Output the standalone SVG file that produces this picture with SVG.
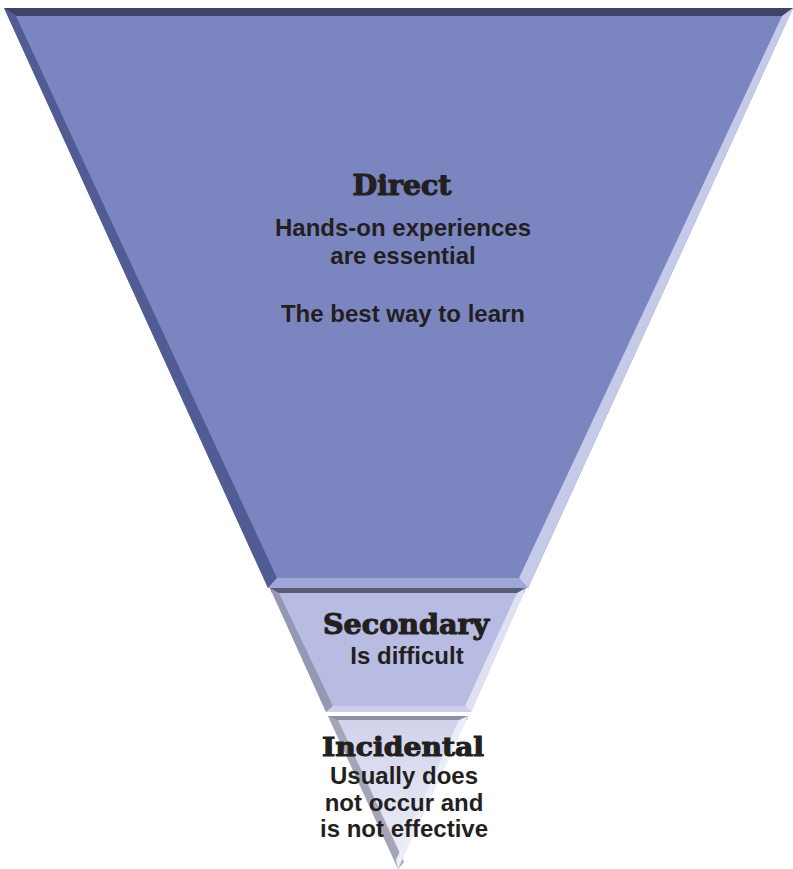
<svg xmlns="http://www.w3.org/2000/svg" width="793" height="869" viewBox="0 0 793 869">
<defs>
<linearGradient id="incFill" x1="0" y1="0" x2="0" y2="1">
<stop offset="0" stop-color="#cfd2ea"/>
<stop offset="1" stop-color="#eef0f8"/>
</linearGradient>
</defs>
<style>
.head{font-family:"DejaVu Serif","Liberation Serif",serif;font-weight:bold;fill:#231f20;text-anchor:middle;stroke:#231f20;stroke-width:1.1}
.body{font-family:"Liberation Sans",Arial,sans-serif;font-weight:bold;fill:#231f20;text-anchor:middle;font-size:24px}
</style>
<rect width="793" height="869" fill="#ffffff"/>
<g id="direct">
<polygon points="4,8 793,8 528,588 268,588" fill="#7b86c1"/>
<polygon points="4,8 793,8 782,16 16,16" fill="#3d4468"/>
<polygon points="4,8 16,16 277,578 268,588" fill="#525c94"/>
<polygon points="793,8 528,588 519,578 782,16" fill="#c6cae9"/>
<polygon points="277,578 519,578 528,588 268,588" fill="#a0a7d8"/>
<text class="head" x="402" y="195" font-size="27" textLength="99" lengthAdjust="spacingAndGlyphs">Direct</text>
<text class="body" x="403" y="236">Hands-on experiences</text>
<text class="body" x="403" y="264">are essential</text>
<text class="body" x="403" y="322">The best way to learn</text>
</g>
<g id="secondary">
<polygon points="270,588 526,588 471,712 326,712" fill="#b8bce2"/>
<polygon points="270,588 526,588 524,593 272,593" fill="#595d75"/>
<polygon points="270,588 279,593 333,706 326,712" fill="#9598b2"/>
<polygon points="526,588 471,712 465,706 517,593" fill="#dfe1f2"/>
<polygon points="333,706 465,706 471,712 326,712" fill="#cdd0ea"/>
<text class="head" x="406" y="634" font-size="27" textLength="166" lengthAdjust="spacingAndGlyphs">Secondary</text>
<text class="body" x="407" y="664">Is difficult</text>
</g>
<g id="incidental">
<polygon points="328,716 468,716 398,869" fill="url(#incFill)"/>
<polygon points="328,716 468,716 467,720 331,720" fill="#8d8fa4"/>
<polygon points="328,716 338,720 404,862 398,869" fill="#a4a5b6"/>
<polygon points="468,716 398,869 396,860 459,720" fill="#eceef7"/>
<text class="head" x="403" y="756" font-size="26" textLength="162" lengthAdjust="spacingAndGlyphs">Incidental</text>
<text class="body" x="404" y="784">Usually does</text>
<text class="body" x="404" y="811">not occur and</text>
<text class="body" x="404" y="837">is not effective</text>
</g>
<g id="connectors"/>
</svg>
